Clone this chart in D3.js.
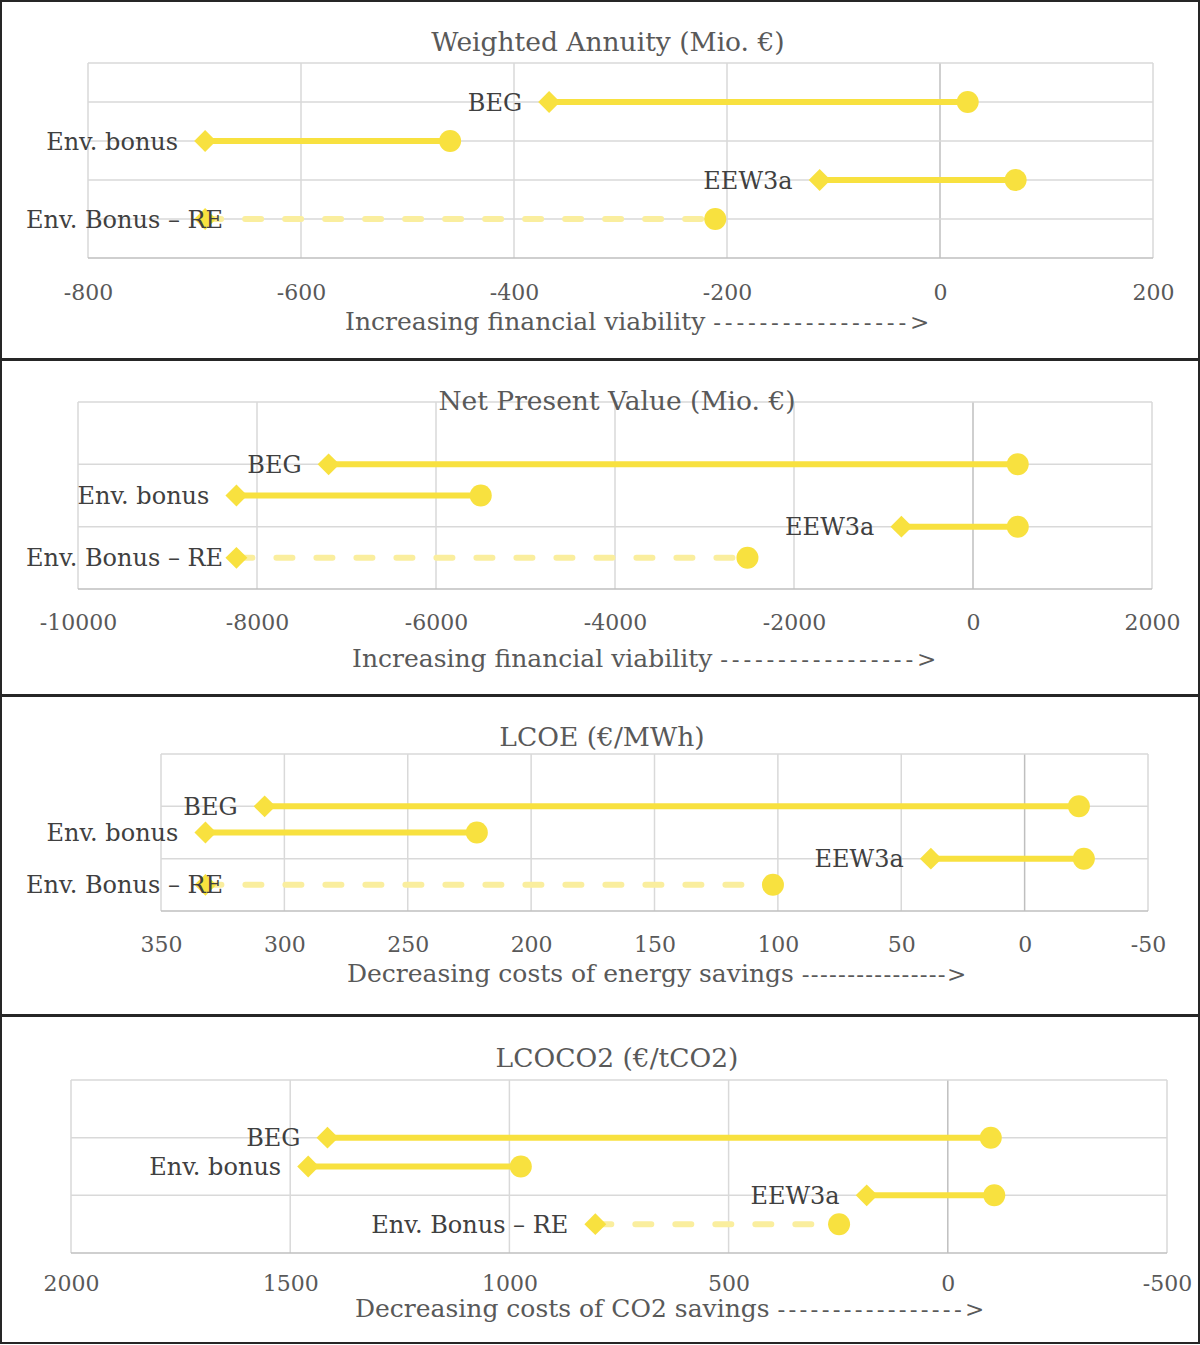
<!DOCTYPE html>
<html>
<head>
<meta charset="utf-8">
<script src="https://cdn.jsdelivr.net/npm/d3@7"></script>
<style>
  body { margin: 0; background: #fff; }
  svg { display: block; font-family: "DejaVu Serif", Georgia, serif; }
  .title, .tick-label, .axis-title { fill: #595959; }
  .label { fill: #404040; }
</style>
</head>
<body>
<svg id="chart" width="1200" height="1345"></svg>
<script>
// categories, same order in every panel
var categories = ["BEG", "Env. bonus", "EEW3a", "Env. Bonus \u2013 RE"];
var dashedCat = "Env. Bonus \u2013 RE";

// weighted annuity (Mio. €)
var annuityFrom = [-367, -690, -113, -690];
var annuityTo = [26, -460, 71, -211];
var annuityRows = [4, 3, 2, 1];
var annuityTicks = [-800, -600, -400, -200, 0, 200];

// net present value (Mio. €)
var npvFrom = [-7200, -8230, -800, -8230];
var npvTo = [500, -5500, 500, -2520];
var npvRows = [2, 1.5, 1, 0.5];
var npvTicks = [-10000, -8000, -6000, -4000, -2000, 0, 2000];

// LCOE (€/MWh)
var lcoeFrom = [308, 332, 38, 332];
var lcoeTo = [-22, 222, -24, 102];
var lcoeRows = [2, 1.5, 1, 0.5];
var lcoeTicks = [350, 300, 250, 200, 150, 100, 50, 0, -50];

// LCOCO2 (€/tCO2)
var lcoco2From = [1415, 1459, 185, 804];
var lcoco2To = [-98, 974, -106, 248];
var lcoco2Rows = [2, 1.5, 1, 0.5];
var lcoco2Ticks = [2000, 1500, 1000, 500, 0, -500];

var yellow = "#F8E13F",
	paleYellow = "#FAEE9E";

var panels = [
	{title: "Weighted Annuity (Mio. \u20ac)", axisText: "Increasing financial viability", arrow: "----------------->", arrowSpacing: 3.8,
		top: 1, bottom: 359, x0: 88, x1: 1153, y0: 63, y1: 258, yMax: 5,
		from: annuityFrom, to: annuityTo, rows: annuityRows, ticks: annuityTicks,
		titleX: 608, titleY: 51, tickY: 300, axisY: 330, axisX: 345, clamp: 26},
	{title: "Net Present Value (Mio. \u20ac)", axisText: "Increasing financial viability", arrow: "----------------->", arrowSpacing: 3.8,
		top: 360, bottom: 695, x0: 78, x1: 1152, y0: 402, y1: 589, yMax: 3,
		from: npvFrom, to: npvTo, rows: npvRows, ticks: npvTicks,
		titleX: 617, titleY: 410, tickY: 630, axisY: 667, axisX: 352, clamp: 26},
	{title: "LCOE (\u20ac/MWh)", axisText: "Decreasing costs of energy savings", arrow: "---------------->", arrowSpacing: 1.3,
		top: 696, bottom: 1015, x0: 161, x1: 1148, y0: 754, y1: 911, yMax: 3,
		from: lcoeFrom, to: lcoeTo, rows: lcoeRows, ticks: lcoeTicks,
		titleX: 602, titleY: 746, tickY: 952, axisY: 982, axisX: 347, clamp: 26},
	{title: "LCOCO2 (\u20ac/tCO2)", axisText: "Decreasing costs of CO2 savings", arrow: "----------------->", arrowSpacing: 3.25,
		top: 1016, bottom: 1343, x0: 71, x1: 1167, y0: 1080, y1: 1253, yMax: 3,
		from: lcoco2From, to: lcoco2To, rows: lcoco2Rows, ticks: lcoco2Ticks,
		titleX: 617, titleY: 1067, tickY: 1291, axisY: 1317, axisX: 355, clamp: 26}
];

var svg = d3.select("#chart");

panels.forEach(function(p) {
	var g = svg.append("g");
	var ticks = p.ticks;
	var x = d3.scaleLinear()
		.domain([ticks[0], ticks[ticks.length - 1]])
		.range([p.x0, p.x1]);
	var y = d3.scaleLinear().domain([0, p.yMax]).range([p.y1, p.y0]);

	// panel frame
	g.append("rect")
		.attr("x", 1).attr("y", p.top)
		.attr("width", 1198).attr("height", p.bottom - p.top)
		.attr("fill", "none").attr("stroke", "#262626").attr("stroke-width", 2);

	// gridlines
	g.selectAll(".vgrid").data(ticks).enter().append("line")
		.attr("x1", function(d) { return x(d); })
		.attr("x2", function(d) { return x(d); })
		.attr("y1", p.y0).attr("y2", p.y1)
		.attr("stroke", function(d) { return d === 0 ? "#bfbfbf" : "#d9d9d9"; })
		.attr("stroke-width", 1.5);
	g.selectAll(".hgrid").data(d3.range(0, p.yMax + 1)).enter().append("line")
		.attr("x1", p.x0).attr("x2", p.x1)
		.attr("y1", function(d) { return y(d); })
		.attr("y2", function(d) { return y(d); })
		.attr("stroke", function(d) { return d === 0 ? "#bfbfbf" : "#d9d9d9"; })
		.attr("stroke-width", 1.5);

	// tick labels (plain hyphen for negatives, as in the original)
	var axis = g.append("g")
		.attr("transform", "translate(0," + p.y1 + ")")
		.call(d3.axisBottom(x).tickValues(ticks).tickSize(0).tickFormat(function(d) { return String(d); }));
	axis.attr("font-family", null).attr("font-size", null);
	axis.select(".domain").remove();
	axis.selectAll("text")
		.attr("class", "tick-label")
		.attr("y", p.tickY - p.y1).attr("dy", 0)
		.attr("font-size", 22).attr("fill", null);

	// titles
	g.append("text").attr("class", "title")
		.attr("x", p.titleX).attr("y", p.titleY)
		.attr("text-anchor", "middle").attr("font-size", 26.5)
		.text(p.title);
	var at = g.append("text").attr("class", "axis-title")
		.attr("x", p.axisX).attr("y", p.axisY).attr("font-size", 25);
	at.append("tspan").text(p.axisText + " ");
	at.append("tspan").attr("letter-spacing", p.arrowSpacing).attr("font-size", 23).text(p.arrow);

	var rows = categories.map(function(c, i) {
		return {cat: c, from: p.from[i], to: p.to[i], row: p.rows[i]};
	});

	// connecting lines
	g.selectAll(".seg").data(rows).enter().append("line")
		.attr("x1", function(d) { return x(d.from); })
		.attr("x2", function(d) { return x(d.to); })
		.attr("y1", function(d) { return y(d.row); })
		.attr("y2", function(d) { return y(d.row); })
		.attr("stroke", function(d) { return d.cat === dashedCat ? paleYellow : yellow; })
		.attr("stroke-width", 6)
		.attr("stroke-linecap", function(d) { return d.cat === dashedCat ? "round" : "butt"; })
		.attr("stroke-dasharray", function(d) { return d.cat === dashedCat ? "16 24" : null; });

	// end markers
	g.selectAll(".dot").data(rows).enter().append("circle")
		.attr("cx", function(d) { return x(d.to); })
		.attr("cy", function(d) { return y(d.row); })
		.attr("r", 11).attr("fill", yellow);
	g.selectAll(".diamond").data(rows).enter().append("path")
		.attr("d", d3.symbol(d3.symbolSquare, 240))
		.attr("transform", function(d) { return "translate(" + x(d.from) + "," + y(d.row) + ") rotate(45)"; })
		.attr("fill", yellow);

	// data labels, left of the diamond, kept inside the chart area
	g.selectAll(".label").data(rows).enter().append("text")
		.attr("class", "label")
		.attr("font-size", 24)
		.attr("y", function(d) { return y(d.row) + 8.5; })
		.text(function(d) { return d.cat; })
		.attr("x", function(d) {
			var w = this.getComputedTextLength();
			return Math.max(x(d.from) - 27 - w, p.clamp);
		});
});
</script>
</body>
</html>
